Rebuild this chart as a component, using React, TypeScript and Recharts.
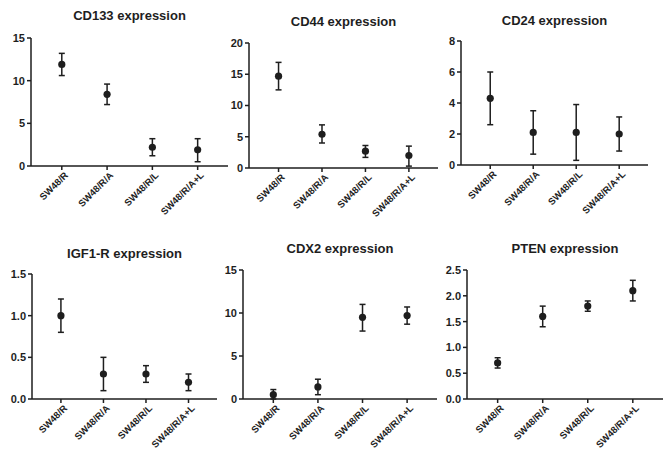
import { ScatterChart, Scatter, XAxis, YAxis, ErrorBar } from "recharts";

// groups on the x axis (same in every panel)
const groups = ["SW48/R", "SW48/R/A", "SW48/R/L", "SW48/R/A+L"];

const cd133Mean = [11.9, 8.4, 2.2, 1.9];
const cd133Low = [10.6, 7.2, 1.2, 0.5];
const cd133High = [13.2, 9.6, 3.2, 3.2];

const cd44Mean = [14.7, 5.4, 2.7, 2.0];
const cd44Low = [12.5, 4.0, 1.7, 0.3];
const cd44High = [16.9, 6.9, 3.6, 3.5];

const cd24Mean = [4.3, 2.1, 2.1, 2.0];
const cd24Low = [2.6, 0.7, 0.3, 0.9];
const cd24High = [6.0, 3.5, 3.9, 3.1];

const igf1rMean = [1.0, 0.3, 0.3, 0.2];
const igf1rLow = [0.8, 0.1, 0.2, 0.1];
const igf1rHigh = [1.2, 0.5, 0.4, 0.3];

const cdx2Mean = [0.5, 1.4, 9.5, 9.7];
const cdx2Low = [0.0, 0.5, 7.9, 8.7];
const cdx2High = [1.1, 2.3, 11.0, 10.7];

const ptenMean = [0.7, 1.6, 1.8, 2.1];
const ptenLow = [0.6, 1.4, 1.7, 1.9];
const ptenHigh = [0.8, 1.8, 1.9, 2.3];

const ticks0to15 = [0, 5, 10, 15];
const ticks0to20 = [0, 5, 10, 15, 20];
const ticks0to8 = [0, 2, 4, 6, 8];
const ticks0to15dec = [0, 0.5, 1.0, 1.5];
const ticks0to25dec = [0, 0.5, 1.0, 1.5, 2.0, 2.5];

const INK = "#1e1e1e";
const FONT = "'Liberation Sans', Arial, sans-serif";

type Box = { l: number; r: number; t: number; b: number; ty: number };

function CategoryTick({ x, y, payload }: any) {
  return (
    <g transform={`translate(${x + 4},${y + 1})`}>
      <text
        x={0}
        y={0}
        dy={4}
        textAnchor="end"
        transform="rotate(-45)"
        fontSize={9.5}
        fontWeight={700}
        fontFamily={FONT}
        fill={INK}
      >
        {groups[payload.value]}
      </text>
    </g>
  );
}

function Dot(p: any) {
  return <circle cx={p.cx} cy={p.cy} r={3.6} fill={INK} />;
}

function Panel({
  title, mean, low, high, yTicks, decimals, box,
}: {
  title: string; mean: number[]; low: number[]; high: number[];
  yTicks: number[]; decimals: number; box: Box;
}) {
  const data = mean.map((m, i) => ({ i, m, err: [m - low[i], high[i] - m] }));
  const w = box.r - box.l + 30 + 12;
  const h = box.b - box.t + 10 + 60;
  return (
    <>
      <div
        style={{
          position: "absolute", left: box.l, width: box.r - box.l, top: box.ty - 9,
          lineHeight: "18px", textAlign: "center", fontSize: 13, fontWeight: 700,
          fontFamily: FONT, color: INK,
        }}
      >
        {title}
      </div>
      <div style={{ position: "absolute", left: box.l - 30, top: box.t - 10 }}>
        <ScatterChart width={w} height={h} margin={{ top: 10, right: 12, bottom: 0, left: 0 }}>
          <XAxis
            type="number"
            dataKey="i"
            domain={[-0.68, 3.67]}
            ticks={[0, 1, 2, 3]}
            allowDataOverflow
            height={60}
            tick={<CategoryTick />}
            tickSize={4}
            axisLine={{ stroke: INK, strokeWidth: 1.5 }}
            tickLine={{ stroke: INK, strokeWidth: 1.5 }}
          />
          <YAxis
            type="number"
            dataKey="m"
            width={30}
            domain={[yTicks[0], yTicks[yTicks.length - 1]]}
            ticks={yTicks}
            tickFormatter={(v: number) => v.toFixed(decimals)}
            tickSize={4}
            tickMargin={2}
            tick={{ fontSize: 11, fontWeight: 700, fontFamily: FONT, fill: INK }}
            axisLine={{ stroke: INK, strokeWidth: 1.5 }}
            tickLine={{ stroke: INK, strokeWidth: 1.5 }}
          />
          <Scatter data={data} shape={<Dot />} isAnimationActive={false}>
            <ErrorBar dataKey="err" direction="y" width={3} stroke={INK} strokeWidth={1.5} />
          </Scatter>
        </ScatterChart>
      </div>
    </>
  );
}

export default function App() {
  return (
    <div style={{ position: "absolute", left: 0, top: 0, width: 668, height: 451, background: "#fff" }}>
      <Panel title="CD133 expression" mean={cd133Mean} low={cd133Low} high={cd133High}
        yTicks={ticks0to15} decimals={0} box={{ l: 31, r: 228, t: 38, b: 166, ty: 16 }} />
      <Panel title="CD44 expression" mean={cd44Mean} low={cd44Low} high={cd44High}
        yTicks={ticks0to20} decimals={0} box={{ l: 249, r: 438, t: 43, b: 168, ty: 22 }} />
      <Panel title="CD24 expression" mean={cd24Mean} low={cd24Low} high={cd24High}
        yTicks={ticks0to8} decimals={0} box={{ l: 461, r: 648, t: 41, b: 165, ty: 21 }} />
      <Panel title="IGF1-R expression" mean={igf1rMean} low={igf1rLow} high={igf1rHigh}
        yTicks={ticks0to15dec} decimals={1} box={{ l: 32, r: 217, t: 274, b: 399, ty: 254 }} />
      <Panel title="CDX2 expression" mean={cdx2Mean} low={cdx2Low} high={cdx2High}
        yTicks={ticks0to15} decimals={0} box={{ l: 243, r: 437, t: 270, b: 399, ty: 249 }} />
      <Panel title="PTEN expression" mean={ptenMean} low={ptenLow} high={ptenHigh}
        yTicks={ticks0to25dec} decimals={1} box={{ l: 467, r: 663, t: 270, b: 399, ty: 249 }} />
    </div>
  );
}
